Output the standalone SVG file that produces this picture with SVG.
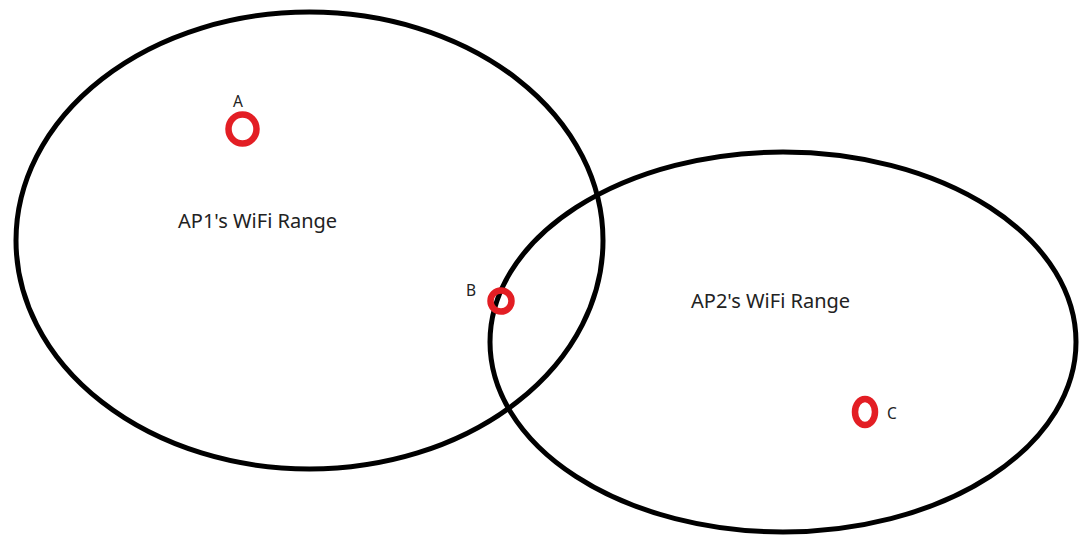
<svg xmlns="http://www.w3.org/2000/svg" width="1087" height="537" viewBox="0 0 1087 537">
<style>
.range{fill:none;stroke:#000;stroke-width:5}
.pt{fill:none;stroke:#e31e24;stroke-width:6.5}
text{font-family:"Noto Sans","DejaVu Sans",sans-serif;fill:#222}
.lbl{font-size:15.5px}
.big{font-size:20px}
</style>
<rect width="1087" height="537" fill="#fff"/>
<g id="ap1">
<ellipse class="range" cx="309.5" cy="240.5" rx="293.5" ry="228.5"/>
<text class="big" x="178" y="228">AP1's WiFi Range</text>
</g>
<g id="ap2">
<ellipse class="range" cx="783" cy="342" rx="293" ry="190"/>
<text class="big" x="691" y="308">AP2's WiFi Range</text>
</g>
<g id="A">
<ellipse class="pt" cx="242.5" cy="129" rx="14" ry="14.5"/>
<text class="lbl" x="233" y="107">A</text>
</g>
<g id="B">
<ellipse class="pt" cx="501" cy="301" rx="10.5" ry="10.5"/>
<text class="lbl" x="466" y="296">B</text>
</g>
<g id="C">
<ellipse class="pt" cx="865" cy="412" rx="10" ry="13"/>
<text class="lbl" x="887" y="419">C</text>
</g>
<g id="connectors"/>
</svg>
